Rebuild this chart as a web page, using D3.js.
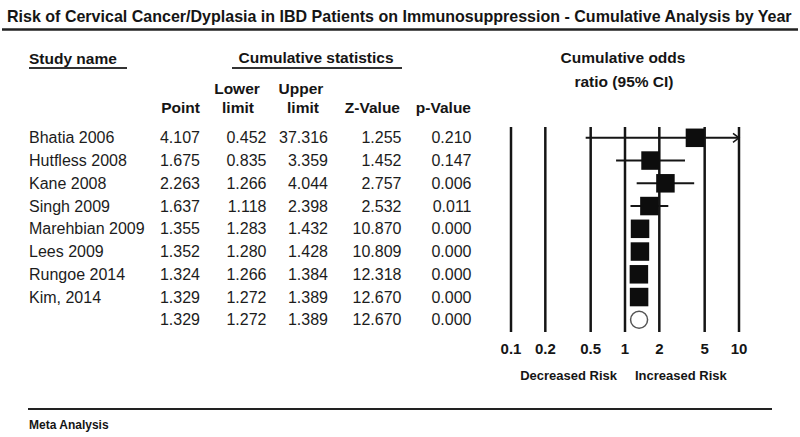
<!DOCTYPE html>
<html><head><meta charset="utf-8">
<script src="https://cdn.jsdelivr.net/npm/d3@7"></script>
<style>html,body{margin:0;padding:0;background:#fff;}svg{display:block;font-family:"Liberation Sans",Arial,sans-serif;}</style>
</head><body>
<script>
const titleText = "Risk of Cervical Cancer/Dyplasia in IBD Patients on Immunosuppression - Cumulative Analysis by Year";
const studies = ["Bhatia 2006","Hutfless 2008","Kane 2008","Singh 2009","Marehbian 2009","Lees 2009","Rungoe 2014","Kim, 2014",""];
const pointVals = [4.107,1.675,2.263,1.637,1.355,1.352,1.324,1.329,1.329];
const lowerVals = [0.452,0.835,1.266,1.118,1.283,1.280,1.266,1.272,1.272];
const upperVals = [37.316,3.359,4.044,2.398,1.432,1.428,1.384,1.389,1.389];
const zVals = [1.255,1.452,2.757,2.532,10.870,10.809,12.318,12.670,12.670];
const pVals = [0.210,0.147,0.006,0.011,0.000,0.000,0.000,0.000,0.000];
const isSummary = [false,false,false,false,false,false,false,false,true];
const axisTicks = [0.1,0.2,0.5,1,2,5,10];

const W = 800, H = 437;
const svg = d3.select("body").append("svg").attr("width", W).attr("height", H);
const ink = "#151515";

// Title: horizontally condensed to fit the reference width
const tg = svg.append("g");
const tt = tg.append("text").attr("x", 0).attr("y", 0).attr("font-size", 17).attr("font-weight", "bold")
  .attr("fill", ink).text(titleText);
const natW = tt.node().getComputedTextLength();
const sx = Math.min(1, 785 / natW);
tg.attr("transform", `translate(7,22) scale(${sx},1)`);
svg.append("line").attr("x1", 2).attr("x2", 798).attr("y1", 29.5).attr("y2", 29.5)
  .attr("stroke", "#222").attr("stroke-width", 2.5);

// Headers
const hdr = (x, y, t, anchor, size) => svg.append("text").attr("x", x).attr("y", y)
  .attr("font-size", size || 15.5).attr("font-weight", "bold").attr("fill", ink)
  .attr("text-anchor", anchor || "start").text(t);
hdr(29, 64, "Study name");
svg.append("line").attr("x1", 29).attr("x2", 127).attr("y1", 68).attr("y2", 68).attr("stroke", "#333").attr("stroke-width", 2);
hdr(316, 63, "Cumulative statistics", "middle");
svg.append("line").attr("x1", 232).attr("x2", 402).attr("y1", 68).attr("y2", 68).attr("stroke", "#333").attr("stroke-width", 2);
hdr(200, 113, "Point", "end");
hdr(237, 94, "Lower", "middle");
hdr(238, 113, "limit", "middle");
hdr(301, 94, "Upper", "middle");
hdr(303, 113, "limit", "middle");
hdr(400, 113, "Z-Value", "end");
hdr(471, 113, "p-Value", "end");
hdr(623, 63, "Cumulative odds", "middle");
hdr(624, 87, "ratio (95% CI)", "middle");

// Rows
const idx = d3.range(studies.length);
const y = d3.scalePoint().domain(idx).range([137.8, 319.8]);
const fmt = d3.format(".3f");
const cols = [
  {x: 29, anchor: "start", get: i => studies[i]},
  {x: 200, anchor: "end", get: i => fmt(pointVals[i])},
  {x: 266.5, anchor: "end", get: i => fmt(lowerVals[i])},
  {x: 328, anchor: "end", get: i => fmt(upperVals[i])},
  {x: 401.5, anchor: "end", get: i => fmt(zVals[i])},
  {x: 471.5, anchor: "end", get: i => fmt(pVals[i])}
];
cols.forEach(c => {
  svg.append("g").selectAll("text").data(idx).join("text")
    .attr("x", c.x).attr("y", i => y(i) + 5.6).attr("text-anchor", c.anchor)
    .attr("font-size", 16).attr("fill", "#1c1c1c").text(c.get);
});

// Forest plot
const x = d3.scaleLog().domain([0.1, 10]).range([511, 739]);
const plot = svg.append("g");
plot.selectAll("line.grid").data(axisTicks).join("line").attr("class", "grid")
  .attr("x1", d => x(d)).attr("x2", d => x(d)).attr("y1", 127).attr("y2", 332)
  .attr("stroke", ink).attr("stroke-width", 2.5);

const clampX = v => x(Math.max(0.1, Math.min(10, v)));
plot.selectAll("line.ci").data(idx.filter(i => !isSummary[i])).join("line").attr("class", "ci")
  .attr("x1", i => clampX(lowerVals[i])).attr("x2", i => clampX(upperVals[i]))
  .attr("y1", i => y(i)).attr("y2", i => y(i)).attr("stroke", ink).attr("stroke-width", 2);

// arrows where CI exceeds axis
plot.selectAll("path.arrow").data(idx.filter(i => upperVals[i] > 10)).join("path").attr("class", "arrow")
  .attr("d", i => `M${x(10) - 6},${y(i) - 4.5} L${x(10)},${y(i)} L${x(10) - 6},${y(i) + 4.5}`)
  .attr("fill", "none").attr("stroke", ink).attr("stroke-width", 1.5);

const sq = 18.5;
plot.selectAll("rect.pt").data(idx.filter(i => !isSummary[i])).join("rect").attr("class", "pt")
  .attr("x", i => x(pointVals[i]) - sq / 2).attr("y", i => y(i) - sq / 2)
  .attr("width", sq).attr("height", sq).attr("fill", "#0d0d0d");

plot.selectAll("circle.sum").data(idx.filter(i => isSummary[i])).join("circle").attr("class", "sum")
  .attr("cx", i => x(pointVals[i])).attr("cy", i => y(i)).attr("r", 8.5)
  .attr("fill", "#fff").attr("stroke", "#555").attr("stroke-width", 1.5);

// Axis labels
plot.selectAll("text.tick").data(axisTicks).join("text").attr("class", "tick")
  .attr("x", d => x(d)).attr("y", 354).attr("text-anchor", "middle")
  .attr("font-size", 15).attr("font-weight", "bold").attr("fill", ink).text(d => String(d));

svg.append("text").attr("x", 617).attr("y", 380).attr("text-anchor", "end").attr("font-size", 13)
  .attr("font-weight", "bold").attr("fill", ink).text("Decreased Risk");
svg.append("text").attr("x", 635).attr("y", 380).attr("text-anchor", "start").attr("font-size", 13)
  .attr("font-weight", "bold").attr("fill", ink).text("Increased Risk");

// Footer
svg.append("line").attr("x1", 28).attr("x2", 772).attr("y1", 409).attr("y2", 409)
  .attr("stroke", "#222").attr("stroke-width", 2);
svg.append("text").attr("x", 29).attr("y", 428.5).attr("font-size", 12).attr("font-weight", "bold")
  .attr("fill", ink).text("Meta Analysis");
</script>
</body></html>
